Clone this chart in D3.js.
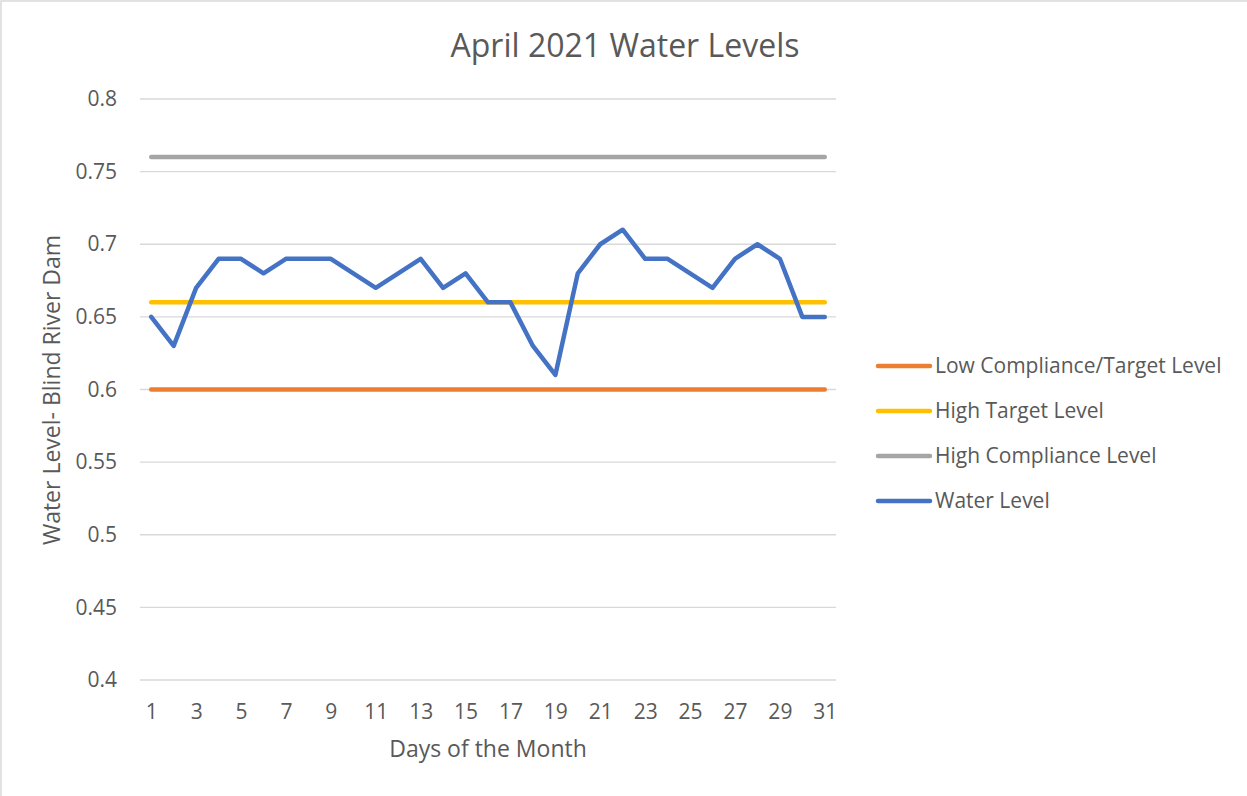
<!DOCTYPE html>
<html>
<head>
<meta charset="utf-8">
<script src="https://cdn.jsdelivr.net/npm/d3@7"></script>
<style>
  body { margin: 0; background: #fff; }
  text { font-family: "Open Sans", "Noto Sans", sans-serif; fill: #595959; }
</style>
</head>
<body>
<svg id="chart" width="1247" height="796"></svg>
<script>
// Chart data
const days = d3.range(1, 32);
const waterLevel = [0.65, 0.63, 0.67, 0.69, 0.69, 0.68, 0.69, 0.69, 0.69, 0.68,
                    0.67, 0.68, 0.69, 0.67, 0.68, 0.66, 0.66, 0.63, 0.61, 0.68,
                    0.70, 0.71, 0.69, 0.69, 0.68, 0.67, 0.69, 0.70, 0.69, 0.65, 0.65];
const lowCompliance = 0.60;
const highTarget = 0.66;
const highCompliance = 0.76;
const yTicks = [0.4, 0.45, 0.5, 0.55, 0.6, 0.65, 0.7, 0.75, 0.8];

const series = [
    { name: "Low Compliance/Target Level", color: "#ED7D31", values: days.map(() => lowCompliance) },
    { name: "High Target Level", color: "#FFC000", values: days.map(() => highTarget) },
    { name: "High Compliance Level", color: "#A5A5A5", values: days.map(() => highCompliance) },
    { name: "Water Level", color: "#4472C4", values: waterLevel }
];

const svg = d3.select("#chart");

// outer frame (only left and top edges visible in the crop)
svg.append("rect")
    .attr("x", 1).attr("y", 1)
    .attr("width", 1300).attr("height", 900)
    .attr("fill", "none")
    .attr("stroke", "#d9d9d9")
    .attr("stroke-width", 1.5);

const plot = { left: 140, right: 836, top: 99, bottom: 680 };

const x = d3.scalePoint()
    .domain(days)
    .range([plot.left, plot.right])
    .padding(0.5);

const y = d3.scaleLinear()
    .domain([0.4, 0.8])
    .range([plot.bottom, plot.top]);

// gridlines
svg.append("g")
    .selectAll("line")
    .data(yTicks)
    .join("line")
    .attr("x1", plot.left)
    .attr("x2", plot.right)
    .attr("y1", d => y(d))
    .attr("y2", d => y(d))
    .attr("stroke", "#d9d9d9")
    .attr("stroke-width", 1.3);

// y axis labels
const yAxis = svg.append("g")
    .attr("transform", `translate(${plot.left - 13},0)`)
    .call(d3.axisLeft(y).tickValues(yTicks).tickSize(0).tickPadding(10).tickFormat(d3.format("")));
yAxis.select(".domain").remove();
yAxis.selectAll("text")
    .attr("font-size", 21)
    .attr("fill", "#595959")
    .attr("font-family", "Open Sans, sans-serif");

// x axis labels
const xAxis = svg.append("g")
    .attr("transform", `translate(0,${plot.bottom})`)
    .call(d3.axisBottom(x).tickValues(days.filter(d => d % 2 === 1)).tickSize(0).tickPadding(24));
xAxis.select(".domain").remove();
xAxis.selectAll("text")
    .attr("font-size", 21)
    .attr("fill", "#595959")
    .attr("font-family", "Open Sans, sans-serif");

// lines
const line = d3.line()
    .x((d, i) => x(days[i]))
    .y(d => y(d));

svg.append("g")
    .selectAll("path")
    .data(series)
    .join("path")
    .attr("d", d => line(d.values))
    .attr("fill", "none")
    .attr("stroke", d => d.color)
    .attr("stroke-width", 4.5)
    .attr("stroke-linecap", "round")
    .attr("stroke-linejoin", "round");

// title
svg.append("text")
    .attr("x", 625)
    .attr("y", 57)
    .attr("text-anchor", "middle")
    .attr("font-size", 32)
    .text("April 2021 Water Levels");

// axis titles
svg.append("text")
    .attr("x", 488)
    .attr("y", 757)
    .attr("text-anchor", "middle")
    .attr("font-size", 23)
    .text("Days of the Month");

svg.append("text")
    .attr("transform", "translate(60,390) rotate(-90)")
    .attr("text-anchor", "middle")
    .attr("font-size", 23)
    .text("Water Level- Blind River Dam");

// legend
const legend = svg.append("g")
    .selectAll("g")
    .data(series)
    .join("g")
    .attr("transform", (d, i) => `translate(878,${366 + i * 45})`);

legend.append("line")
    .attr("x1", 0).attr("x2", 52)
    .attr("stroke", d => d.color)
    .attr("stroke-width", 4.5)
    .attr("stroke-linecap", "round");

legend.append("text")
    .attr("x", 57)
    .attr("dy", "0.35em")
    .attr("font-size", 21)
    .text(d => d.name);
</script>
</body>
</html>
